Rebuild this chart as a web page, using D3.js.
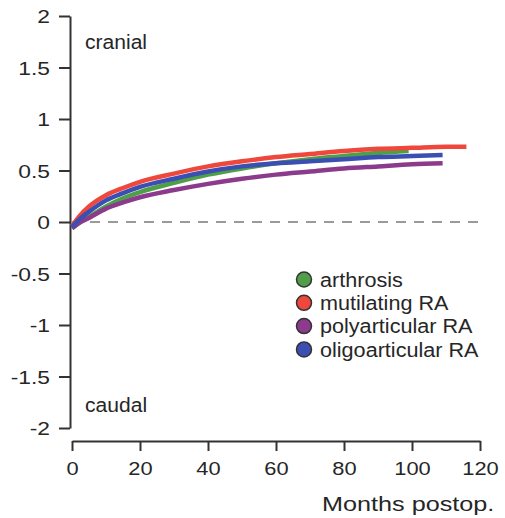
<!DOCTYPE html>
<html>
<head>
<meta charset="utf-8">
<script src="https://cdn.jsdelivr.net/npm/d3@7"></script>
<style>
  body { margin: 0; background: #fff; }
  text { font-family: "Liberation Sans", Arial, sans-serif; fill: #262626; }
</style>
</head>
<body>
<svg width="505" height="518"></svg>
<script>
// months after operation
var months = [0, 2, 5, 10, 15, 20, 30, 40, 50, 60, 70, 80, 90, 100, 110, 116];

// series values, one per month until the series ends
var arthrosis    = [-0.06, -0.01, 0.05, 0.15, 0.23, 0.29, 0.38, 0.46, 0.52, 0.57, 0.61, 0.64, 0.67, 0.69];
var mutilating   = [-0.04, 0.05, 0.15, 0.26, 0.33, 0.39, 0.47, 0.54, 0.59, 0.63, 0.66, 0.69, 0.71, 0.72, 0.73, 0.73];
var polyarticular = [-0.06, -0.01, 0.04, 0.13, 0.19, 0.24, 0.31, 0.37, 0.42, 0.46, 0.49, 0.52, 0.54, 0.56, 0.57];
var oligoarticular = [-0.05, 0.02, 0.10, 0.21, 0.28, 0.34, 0.42, 0.49, 0.54, 0.57, 0.59, 0.61, 0.63, 0.64, 0.65];

// last month of each series (its final point)
var lastMonth = [99, 116, 109, 109];

var seriesNames = ["arthrosis", "mutilating RA", "polyarticular RA", "oligoarticular RA"];
var seriesColors = ["#4f9f48", "#f0473c", "#8b3a8c", "#3b4fb3"];
var seriesValues = [arthrosis, mutilating, polyarticular, oligoarticular];

var yTicks = [2, 1.5, 1, 0.5, 0, -0.5, -1, -1.5, -2];
var xTicks = [0, 20, 40, 60, 80, 100, 120];

var svg = d3.select("svg");

var x = d3.scaleLinear().domain([0, 120]).range([72, 480]);
var y = d3.scaleLinear().domain([-2, 2]).range([428, 16]);

// the original lettering is a bit wider than Liberation Sans
function stretch(sel, k) {
    sel.each(function() {
        var w = this.getComputedTextLength();
        d3.select(this).attr("textLength", w * k).attr("lengthAdjust", "spacingAndGlyphs");
    });
}

// y axis
var yAxis = svg.append("g")
    .attr("transform", "translate(70,0)")
    .call(d3.axisLeft(y).tickValues(yTicks).tickSize(11).tickSizeOuter(0));
yAxis.select(".domain").attr("stroke", "#333").attr("stroke-width", 2);
yAxis.selectAll(".tick line").attr("stroke", "#333").attr("stroke-width", 2);
yAxis.selectAll(".tick text").attr("x", -20).attr("dy", "0.36em")
    .style("font-size", "19px").attr("fill", "#262626")
    .text(function(d) { return d < 0 ? "-" + Math.abs(d) : d; })
    .call(stretch, 1.2);

// x axis
var xAxis = svg.append("g")
    .attr("transform", "translate(0,441)")
    .call(d3.axisBottom(x).tickValues(xTicks).tickSize(10).tickSizeOuter(0));
xAxis.select(".domain").attr("stroke", "#333").attr("stroke-width", 2);
xAxis.selectAll(".tick line").attr("stroke", "#333").attr("stroke-width", 2);
xAxis.selectAll(".tick text").attr("y", 21).attr("dy", "0.71em")
    .style("font-size", "19px").attr("fill", "#262626")
    .call(stretch, 1.15);

// zero reference line
svg.append("line")
    .attr("x1", x(0)).attr("x2", x(120))
    .attr("y1", y(0)).attr("y2", y(0))
    .attr("stroke", "#9a9a9a")
    .attr("stroke-width", 2)
    .attr("stroke-dasharray", "10,8");

// curves
var line = d3.line()
    .x(function(d) { return x(d[0]); })
    .y(function(d) { return y(d[1]); })
    .curve(d3.curveMonotoneX);

seriesValues.forEach(function(vals, i) {
    var pts = vals.map(function(v, j) {
        var m = (j === vals.length - 1) ? lastMonth[i] : months[j];
        return [m, v];
    });
    svg.append("path")
        .datum(pts)
        .attr("d", line)
        .attr("fill", "none")
        .attr("stroke", seriesColors[i])
        .attr("stroke-width", 4.5)
        .attr("stroke-linecap", "butt");
});

// labels
svg.append("text").attr("x", 85).attr("y", 49).style("font-size", "19.5px").text("cranial")
    .call(stretch, 1.08);
svg.append("text").attr("x", 85).attr("y", 412).style("font-size", "19.5px").text("caudal")
    .call(stretch, 1.08);
svg.append("text").attr("x", 322).attr("y", 511)
    .style("font-size", "21px").text("Months postop.")
    .call(stretch, 1.2);

// legend
var legend = svg.append("g");
seriesNames.forEach(function(name, i) {
    var ly = 279.5 + i * 23.3;
    legend.append("circle")
        .attr("cx", 304).attr("cy", ly).attr("r", 7.5)
        .attr("fill", seriesColors[i])
        .attr("stroke", "#333").attr("stroke-width", 1.5);
    legend.append("text")
        .attr("x", 320).attr("y", ly).attr("dy", "0.36em")
        .style("font-size", "20px").text(name)
        .call(stretch, 1.08);
});
</script>
</body>
</html>
